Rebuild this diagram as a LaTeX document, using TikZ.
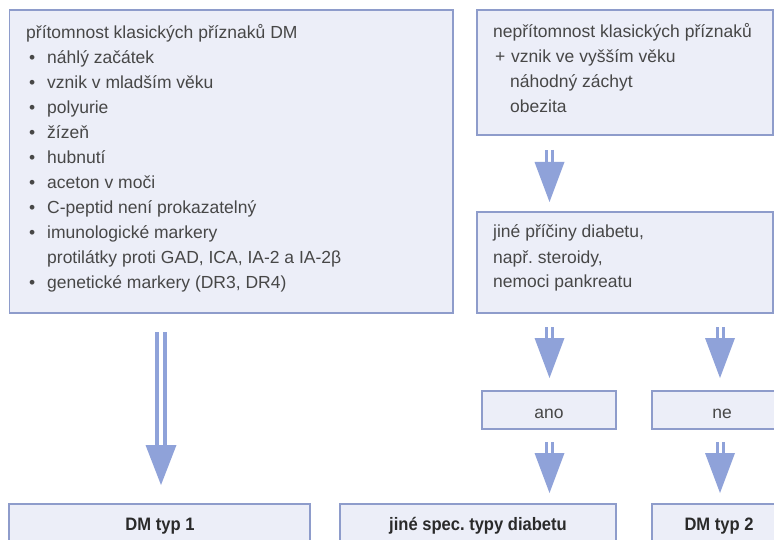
\documentclass[tikz,border=0pt]{standalone}
\usepackage{fontspec}
\setmainfont{Liberation Sans}
\newfontfamily\bcond[FakeStretch=0.92]{Liberation Sans}
\usetikzlibrary{calc}
\definecolor{boxfill}{HTML}{ECEEF8}
\definecolor{boxline}{HTML}{8E9CCB}
\definecolor{arrowc}{HTML}{8FA2D9}
\definecolor{txt}{HTML}{474747}
\definecolor{txtb}{HTML}{2A2A2A}
\frenchspacing
% #1 shaft style, #2 start point, #3 end point, #4 start gap, #5 head start (above end), #6 tip gap, #7 half width
\newcommand\dblarrow[7]{%
  \draw[#1] ($(#2)+(0,#4)$) -- ($(#3)+(0,-#5+1)$);
  \fill[arrowc] ($(#3)+(-#7,-#5)$) -- ($(#3)+(#7,-#5)$) -- ($(#3)+(0,-#6)$) -- cycle;
}
\begin{document}
\frenchspacing
\begin{tikzpicture}[x=1pt,y=-1pt,
  box/.style={draw=boxline, fill=boxfill, line width=1.3pt, anchor=north west, inner sep=0pt, outer sep=0pt},
  txtnode/.style={anchor=base west, inner sep=0pt, text=txt, font=\fontsize{17.5}{25}\selectfont},
  lbl/.style={anchor=base, inner sep=0pt, text=txtb, font=\bcond\bfseries\fontsize{18}{22}\selectfont},
  smalllbl/.style={anchor=base, inner sep=0pt, text=txt, font=\fontsize{17.5}{22}\selectfont},
  shaft/.style={draw=arrowc, line width=3pt, double=white, double distance=3pt},
  bigshaft/.style={draw=arrowc, line width=4pt, double=white, double distance=3.3pt},
]
\useasboundingbox (0,0) rectangle (774,540);
\clip (0,0) rectangle (774,540);
\fill[white] (0,0) rectangle (774,540);

% column coordinates
\coordinate (cL) at (161,0);
\coordinate (cR) at (549.5,0);
\coordinate (cN) at (720,0);

% boxes
\node[box, minimum width=443.5pt, minimum height=303pt] (b1) at (9.5,10) {};
\node[box, minimum width=296pt, minimum height=125pt] (b2) at (477,10) {};
\node[box, minimum width=296pt, minimum height=101pt] (b3) at (477,212) {};
\node[box, minimum width=134pt, minimum height=38pt] (ano) at (482,391) {};
\node[box, minimum width=148pt, minimum height=38pt] (ne) at (652,391) {};
\node[box, minimum width=301pt, minimum height=60pt] (dm1) at (9,504) {};
\node[box, minimum width=276pt, minimum height=60pt] (spec) at (340,504) {};
\node[box, minimum width=148pt, minimum height=60pt] (dm2) at (652,504) {};

% texts
\node[txtnode] (t1) at (26,39) {\vtop{%
  \hbox{přítomnost klasických příznaků DM}
  \hbox{\hspace*{3pt}\makebox[18pt][l]{•}náhlý začátek}
  \hbox{\hspace*{3pt}\makebox[18pt][l]{•}vznik v mladším věku}
  \hbox{\hspace*{3pt}\makebox[18pt][l]{•}polyurie}
  \hbox{\hspace*{3pt}\makebox[18pt][l]{•}žízeň}
  \hbox{\hspace*{3pt}\makebox[18pt][l]{•}hubnutí}
  \hbox{\hspace*{3pt}\makebox[18pt][l]{•}aceton v moči}
  \hbox{\hspace*{3pt}\makebox[18pt][l]{•}C-peptid není prokazatelný}
  \hbox{\hspace*{3pt}\makebox[18pt][l]{•}imunologické markery}
  \hbox{\hspace*{21pt}protilátky proti GAD, ICA, IA-2 a IA-2β}
  \hbox{\hspace*{3pt}\makebox[18pt][l]{•}genetické markery (DR3, DR4)}}};

\node[txtnode] (t2) at (493,38) {\vtop{%
  \hbox{nepřítomnost klasických příznaků}
  \hbox{\hspace*{2pt}\makebox[16pt][l]{+}vznik ve vyšším věku}
  \hbox{\hspace*{17pt}náhodný záchyt}
  \hbox{\hspace*{17pt}obezita}}};

\node[txtnode] (t3) at (493,238) {\vtop{%
  \hbox{jiné příčiny diabetu,}
  \hbox{např. steroidy,}
  \hbox{nemoci pankreatu}}};

\node[smalllbl] (tano) at (549,418) {ano};
\node[smalllbl] (tne) at (722,418) {ne};
\node[lbl] (tdm1) at (160,530) {DM typ 1};
\node[lbl] (tspec) at (478,530) {jiné spec. typy diabetu};
\node[lbl] (tdm2) at (719,530) {DM typ 2};

% arrows
\dblarrow{shaft}{b2.south -| cR}{b3.north -| cR}{15}{50}{10}{15}
\dblarrow{shaft}{b3.south -| cR}{ano.north -| cR}{14}{53}{13}{15}
\dblarrow{shaft}{ano.south -| cR}{spec.north -| cR}{13}{51}{11}{15}
\dblarrow{shaft}{b3.south -| cN}{ne.north -| cN}{14}{53}{13}{15}
\dblarrow{shaft}{ne.south -| cN}{dm2.north -| cN}{13}{51}{11}{15}
\dblarrow{bigshaft}{b1.south -| cL}{dm1.north -| cL}{19}{59}{19}{15.5}
\end{tikzpicture}
\end{document}
